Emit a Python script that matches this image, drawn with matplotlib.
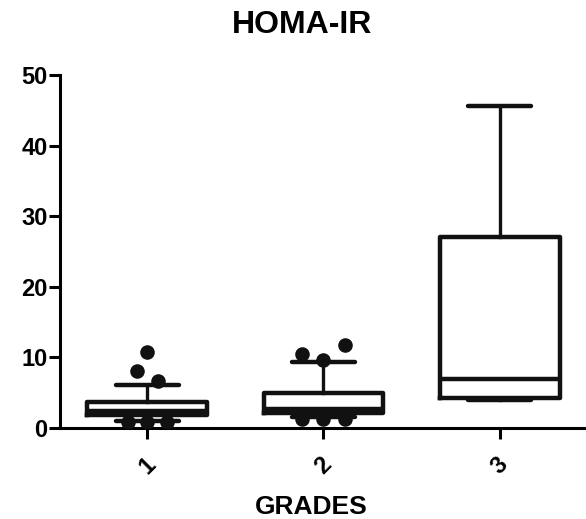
import matplotlib
matplotlib.use("Agg")
import matplotlib.pyplot as plt

plt.rcParams['font.family'] = ['Liberation Sans', 'DejaVu Sans']
plt.rcParams['font.weight'] = 'bold'

# box summary values
grades = ["1", "2", "3"]
q1 = [1.8, 2.1, 4.2]
med = [2.4, 2.7, 7.0]
q3 = [3.7, 5.0, 27.1]
whis_lo = [1.0, 1.5, 3.9]
whis_hi = [6.1, 9.3, 45.6]

# outliers per grade
out_vals = [[10.7, 8.1, 6.6, 0.9, 0.9, 0.9],
            [10.5, 9.7, 11.8, 1.3, 1.3, 1.3],
            []]
# horizontal spread of the points (style only)
out_dx = [[0.0, -0.06, 0.06, -0.11, 0.0, 0.11],
          [-0.12, 0.0, 0.12, -0.12, 0.0, 0.12],
          []]

fig = plt.figure(figsize=(5.86, 5.19), dpi=100)
ax = fig.add_axes([60 / 586, 91 / 519, 526 / 586, 353 / 519])

stats = []
for i in range(len(grades)):
    stats.append({"med": med[i], "q1": q1[i], "q3": q3[i],
                  "whislo": whis_lo[i], "whishi": whis_hi[i],
                  "fliers": [], "label": grades[i]})

lw = 3.2
ax.bxp(stats, positions=[1, 2, 3], widths=0.68, showfliers=False,
       boxprops=dict(color="#111111", linewidth=lw),
       medianprops=dict(color="#111111", linewidth=lw, solid_capstyle="butt"),
       whiskerprops=dict(color="#111111", linewidth=2.4),
       capprops=dict(color="#111111", linewidth=lw, solid_capstyle="round"),
       capwidths=0.36)

for i in range(len(grades)):
    for v, d in zip(out_vals[i], out_dx[i]):
        ax.scatter(i + 1 + d, v, s=110, color="#111111", zorder=5, linewidths=0)

ax.set_xlim(0.505, 3.49)
ax.set_ylim(0, 50)
ax.set_yticks([0, 10, 20, 30, 40, 50])
ax.set_xticks([1, 2, 3])
ax.set_xticklabels(grades, rotation=45, ha="center", fontsize=17)
ax.tick_params(axis="y", labelsize=17, width=2.2, length=8, pad=1)
ax.tick_params(axis="x", width=2.2, length=8, pad=10)
for lab in ax.get_yticklabels() + ax.get_xticklabels():
    lab.set_fontweight("bold")

ax.spines["top"].set_visible(False)
ax.spines["right"].set_visible(False)
ax.spines["left"].set_linewidth(2.2)
ax.spines["bottom"].set_linewidth(2.2)

fig.text(302 / 586, 1 - 33 / 519, "HOMA-IR", ha="center", va="baseline",
         fontsize=23, fontweight="bold")
fig.text(311 / 586, 1 - 514 / 519, "GRADES", ha="center", va="baseline",
         fontsize=19, fontweight="bold")

fig.savefig("out.png", dpi=100)
